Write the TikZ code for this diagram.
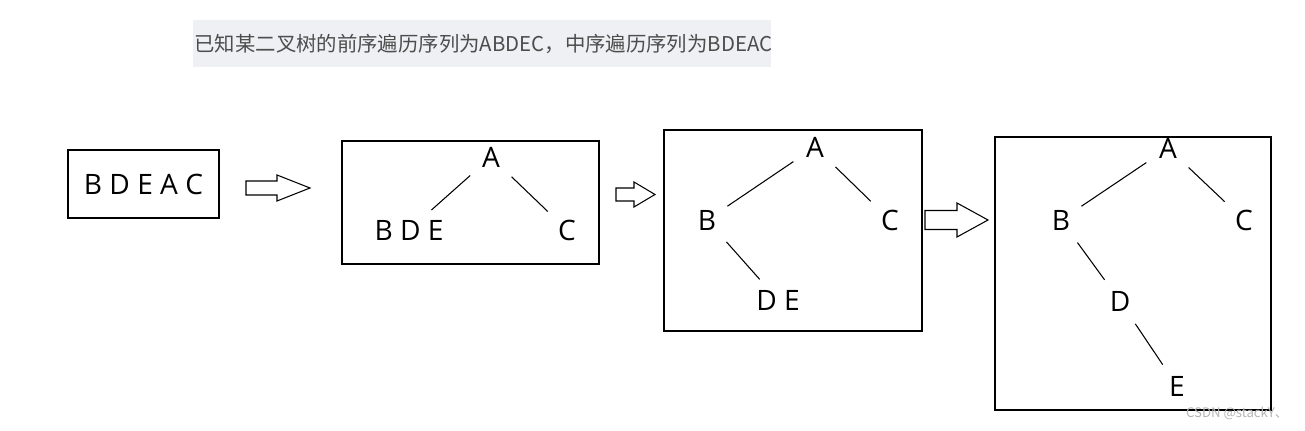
\documentclass[tikz,border=0pt]{standalone}
\usepackage{fontspec}
\setmainfont{Open Sans}
\newfontfamily\cjk{Noto Sans CJK SC}
\usetikzlibrary{positioning}
\definecolor{cband}{HTML}{EFF0F3}
\definecolor{ctext}{HTML}{4D4D4D}
\definecolor{cmark}{HTML}{B4B4B4}
\tikzset{
  every picture/.style={line width=0.6pt},
  frame/.style={draw, line width=0.8pt},
  letter/.style={font=\fontsize{16}{18}\selectfont, inner sep=2pt},
  edge/.style={draw, line width=0.6pt, shorten <=6pt, shorten >=5pt},
  hollow/.style={draw, fill=white, line width=0.6pt},
}
\begin{document}
\begin{tikzpicture}[x=0.02cm, y=-0.02cm]
  \useasboundingbox (0,0) rectangle (1305,431);
  % title band
  \fill[cband] (193,20) rectangle (771,67);
  \node[font=\cjk\fontsize{11.6}{13}\selectfont, text=ctext, anchor=west, inner sep=0pt] (title) at (194,44) {已知某二叉树的前序遍历序列为ABDEC，中序遍历序列为BDEAC};

  % step 1
  \node[frame, letter, minimum width=3.02cm, minimum height=1.36cm] (in) at (143.5,184) {B D E A C};

  % block arrows
  \foreach \x/\y/\k/\t/\h/\s in {246/188/277/310/13/7, 616/194.5/634/655/12.5/6.5, 925/220/957/988/17/9.5} {
    \draw[hollow] (\x,\y-\s) -- (\k,\y-\s) -- (\k,\y-\h) -- (\t,\y) -- (\k,\y+\h) -- (\k,\y+\s) -- (\x,\y+\s) -- cycle;
  }

  % step 2
  \draw[frame] (342,141) rectangle (599,264);
  \node[letter] (a2) at (491,157) {A};
  \node[letter] (bde2) at (409,230) {B D E};
  \node[letter] (c2) at (567,230) {C};
  \draw[edge] (a2) -- (bde2);
  \draw[edge] (a2) -- (c2);

  % step 3
  \draw[frame] (664,130) rectangle (922,331);
  \node[letter] (a3) at (815,147) {A};
  \node[letter] (b3) at (707,220) {B};
  \node[letter] (c3) at (890,220) {C};
  \node[letter] (de3) at (778,300) {D E};
  \draw[edge] (a3) -- (b3);
  \draw[edge] (a3) -- (c3);
  \draw[edge] (b3) -- (de3);

  % step 4
  \draw[frame] (995,137) rectangle (1271,410);
  \node[letter] (a4) at (1168,148) {A};
  \node[letter] (b4) at (1061,220) {B};
  \node[letter] (c4) at (1244,220) {C};
  \node[letter] (d4) at (1120,301) {D};
  \node[letter] (e4) at (1177,386) {E};
  \draw[edge] (a4) -- (b4);
  \draw[edge] (a4) -- (c4);
  \draw[edge] (b4) -- (d4);
  \draw[edge] (d4) -- (e4);

  \node[font=\cjk\fontsize{7.5}{9}\selectfont, text=cmark, inner sep=0pt] (mark) at (1237,413) {CSDN @stackY、};
\end{tikzpicture}
\end{document}
